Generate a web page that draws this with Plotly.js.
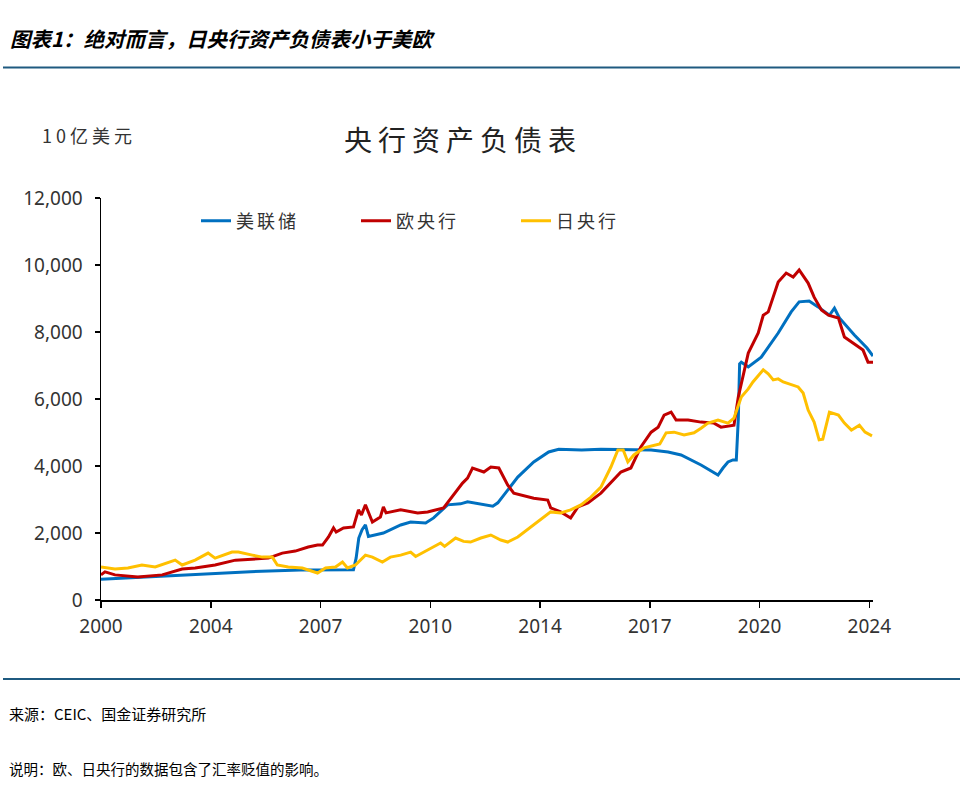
<!DOCTYPE html>
<html>
<head>
<meta charset="utf-8">
<script src="https://cdn.plot.ly/plotly-3.0.1.min.js"></script>
<style>
html,body{margin:0;padding:0;background:#fff;}
#chart{width:960px;height:789px;}
</style>
</head>
<body>
<div id="chart"></div>
<script>
// ---- Data (values in 10亿美元, x in decimal years) ----
const seriesNames = ['美联储', '欧央行', '日央行'];

const fedX = [2001.05, 2002.53, 2004.03, 2005.54, 2007.04, 2008.25, 2008.64, 2008.72, 2008.80, 2008.90, 2009.00, 2009.09, 2009.54, 2010.06, 2010.36, 2010.81, 2011.05, 2011.47, 2011.86, 2012.07, 2012.37, 2012.83, 2012.98, 2013.28, 2013.58, 2014.06, 2014.51, 2014.81, 2015.50, 2016.08, 2016.80, 2017.59, 2018.10, 2018.49, 2019.09, 2019.60, 2019.75, 2019.90, 2020.05, 2020.15, 2020.21, 2020.25, 2020.30, 2020.51, 2020.90, 2021.41, 2021.80, 2022.04, 2022.34, 2022.61, 2022.95, 2023.10, 2023.25, 2023.70, 2024.08, 2024.26];
const fedY = [620, 700, 780, 845, 895, 910, 900, 1250, 1850, 2100, 2240, 1900, 2000, 2240, 2330, 2300, 2450, 2840, 2870, 2930, 2880, 2800, 2900, 3280, 3670, 4120, 4420, 4500, 4480, 4500, 4490, 4480, 4420, 4330, 4030, 3730, 3940, 4120, 4180, 4180, 5400, 7050, 7100, 6960, 7250, 7970, 8600, 8900, 8925, 8750, 8500, 8710, 8420, 7910, 7520, 7280];

const ecbX = [2001.05, 2001.17, 2001.47, 2002.16, 2002.89, 2003.49, 2003.88, 2004.48, 2005.09, 2005.69, 2006.08, 2006.50, 2006.89, 2007.28, 2007.56, 2007.71, 2007.89, 2008.04, 2008.12, 2008.34, 2008.64, 2008.79, 2008.88, 2009.00, 2009.21, 2009.45, 2009.54, 2009.62, 2010.06, 2010.57, 2010.87, 2011.35, 2011.65, 2011.92, 2012.07, 2012.22, 2012.56, 2012.77, 2013.01, 2013.28, 2013.46, 2014.06, 2014.48, 2014.57, 2014.87, 2015.17, 2015.39, 2015.69, 2016.08, 2016.38, 2016.68, 2016.98, 2017.28, 2017.59, 2017.80, 2017.98, 2018.19, 2018.34, 2018.70, 2019.09, 2019.48, 2019.69, 2020.08, 2020.21, 2020.30, 2020.51, 2020.81, 2020.96, 2021.11, 2021.41, 2021.65, 2021.86, 2022.04, 2022.31, 2022.49, 2022.71, 2022.92, 2023.22, 2023.40, 2023.61, 2023.82, 2023.96, 2024.11, 2024.26];
const ecbY = [750, 840, 750, 690, 750, 925, 955, 1045, 1190, 1220, 1250, 1400, 1460, 1580, 1640, 1640, 1880, 2150, 2030, 2150, 2180, 2690, 2540, 2840, 2330, 2480, 2780, 2600, 2690, 2600, 2630, 2750, 3130, 3490, 3640, 3940, 3820, 3970, 3940, 3430, 3190, 3040, 2985, 2750, 2630, 2450, 2780, 2900, 3190, 3490, 3820, 3940, 4570, 5010, 5160, 5520, 5610, 5370, 5370, 5310, 5280, 5160, 5220, 6060, 6480, 7370, 7970, 8500, 8600, 9490, 9760, 9640, 9850, 9460, 9040, 8660, 8500, 8420, 7850, 7700, 7550, 7460, 7100, 7100];

const bojX = [2001.05, 2001.47, 2001.86, 2002.28, 2002.68, 2003.28, 2003.49, 2003.88, 2004.27, 2004.48, 2004.99, 2005.18, 2005.60, 2005.90, 2006.20, 2006.35, 2006.68, 2007.10, 2007.56, 2007.80, 2008.10, 2008.31, 2008.46, 2008.70, 2009.00, 2009.21, 2009.51, 2009.75, 2010.06, 2010.36, 2010.51, 2010.87, 2011.26, 2011.38, 2011.71, 2011.95, 2012.16, 2012.47, 2012.77, 2013.07, 2013.28, 2013.58, 2013.97, 2014.27, 2014.57, 2014.87, 2015.17, 2015.48, 2015.78, 2016.08, 2016.38, 2016.59, 2016.75, 2016.89, 2017.07, 2017.37, 2017.68, 2017.85, 2018.04, 2018.28, 2018.58, 2018.88, 2019.09, 2019.30, 2019.60, 2019.90, 2020.08, 2020.30, 2020.51, 2020.65, 2020.96, 2021.11, 2021.26, 2021.41, 2021.56, 2021.80, 2022.01, 2022.16, 2022.31, 2022.49, 2022.64, 2022.75, 2022.95, 2023.22, 2023.40, 2023.61, 2023.85, 2024.02, 2024.23];
const bojY = [985, 925, 955, 1045, 985, 1190, 1045, 1190, 1400, 1250, 1430, 1430, 1340, 1280, 1280, 1045, 985, 955, 805, 955, 985, 1135, 955, 1045, 1340, 1280, 1135, 1280, 1340, 1430, 1300, 1490, 1700, 1600, 1850, 1750, 1730, 1850, 1940, 1790, 1730, 1880, 2180, 2390, 2630, 2600, 2690, 2840, 3070, 3370, 3970, 4480, 4480, 4120, 4330, 4540, 4630, 4660, 4990, 5010, 4930, 4990, 5130, 5280, 5370, 5280, 5430, 6060, 6300, 6510, 6870, 6750, 6570, 6600, 6510, 6420, 6360, 6180, 5670, 5310, 4780, 4800, 5610, 5520, 5280, 5070, 5220, 5010, 4900];

const yTickVals = [0, 2000, 4000, 6000, 8000, 10000, 12000];
const yTickText = ['0', '2,000', '4,000', '6,000', '8,000', '10,000', '12,000'];
const xTickText = ['2000', '2004', '2007', '2010', '2014', '2017', '2020', '2024'];

// ---- Layout geometry ----
const W = 960, H = 789;
const L = 101, R = 873, T = 198, B = 600;
const xStart = 2001.05, xEnd = 2024.26, xTickStep = 3.30;
const xTickVals = xTickText.map((_, i) => xStart + i * xTickStep);
const px = p => (p - L) / (R - L);
const py = p => (B - p) / (B - T);

const colors = ['#0070C0', '#C00000', '#FFC000'];
const cjk = '"Noto Sans CJK SC", "Noto Sans", sans-serif';
const num = '"Noto Sans", "DejaVu Sans", sans-serif';
const spaced = (s, n) => '<span style="letter-spacing:' + n + 'px">' + s + '</span>';

const traces = [
  {x: fedX, y: fedY, name: seriesNames[0]},
  {x: ecbX, y: ecbY, name: seriesNames[1]},
  {x: bojX, y: bojY, name: seriesNames[2]}
].map((t, i) => Object.assign(t, {
  type: 'scatter', mode: 'lines', line: {color: colors[i], width: 3}
}));
traces.forEach(t => { t.name = spaced(t.name, 3); });

const layout = {
  width: W, height: H,
  margin: {l: L, r: W - R, t: T, b: H - B},
  paper_bgcolor: '#fff', plot_bgcolor: '#fff',
  showlegend: true,
  legend: {
    orientation: 'h', x: px(196), xanchor: 'left', y: py(221), yanchor: 'middle',
    font: {family: cjk, size: 18, color: '#333'},
    bgcolor: 'rgba(0,0,0,0)', entrywidth: 115, entrywidthmode: 'pixels',
    traceorder: 'normal'
  },
  title: {
    text: spaced('央行资产负债表', 6), x: 463 / W, xref: 'container', xanchor: 'center',
    y: 1 - 141 / H, yref: 'container', yanchor: 'middle',
    font: {family: cjk, size: 28, color: '#222'}
  },
  xaxis: {
    range: [xStart, xEnd], tickmode: 'array', tickvals: xTickVals, ticktext: xTickText,
    showgrid: false, zeroline: false, showline: true, linecolor: '#000', linewidth: 1.5,
    ticks: 'outside', ticklen: 6, tickcolor: '#000', tickwidth: 1.5, ticklabelstandoff: 3,
    tickfont: {family: num, size: 19, color: '#333'}, fixedrange: true
  },
  yaxis: {
    range: [0, 12000], tickmode: 'array', tickvals: yTickVals, ticktext: yTickText,
    showgrid: false, zeroline: false, showline: true, linecolor: '#000', linewidth: 1.5,
    ticks: 'outside', ticklen: 5, tickcolor: '#000', tickwidth: 1.5, ticklabelstandoff: 8,
    tickfont: {family: num, size: 19, color: '#333'}, fixedrange: true
  },
  shapes: [
    {type: 'line', xref: 'paper', yref: 'paper', x0: px(3), x1: px(960), y0: py(67.5), y1: py(67.5), line: {color: '#1F5A80', width: 2}},
    {type: 'line', xref: 'paper', yref: 'paper', x0: px(3), x1: px(960), y0: py(679), y1: py(679), line: {color: '#1F5A80', width: 2}}
  ],
  annotations: [
    {text: '<b><i>图表1：绝对而言，日央行资产负债表小于美欧</i></b>', xref: 'paper', yref: 'paper', x: px(8), y: py(38), xanchor: 'left', yanchor: 'middle', showarrow: false, font: {family: cjk, size: 20.5, color: '#000'}},
    {text: spaced('10亿美元', 4), xref: 'paper', yref: 'paper', x: px(40), y: py(135), xanchor: 'left', yanchor: 'middle', showarrow: false, font: {family: cjk, size: 18, color: '#333'}},
    {text: '来源：CEIC、国金证券研究所', xref: 'paper', yref: 'paper', x: px(7), y: py(713), xanchor: 'left', yanchor: 'middle', showarrow: false, font: {family: cjk, size: 15, color: '#000'}},
    {text: '说明：欧、日央行的数据包含了汇率贬值的影响。', xref: 'paper', yref: 'paper', x: px(7), y: py(768), xanchor: 'left', yanchor: 'middle', showarrow: false, font: {family: cjk, size: 14.5, color: '#000'}}
  ]
};

Plotly.newPlot('chart', traces, layout, {displayModeBar: false, staticPlot: true});
</script>
</body>
</html>
